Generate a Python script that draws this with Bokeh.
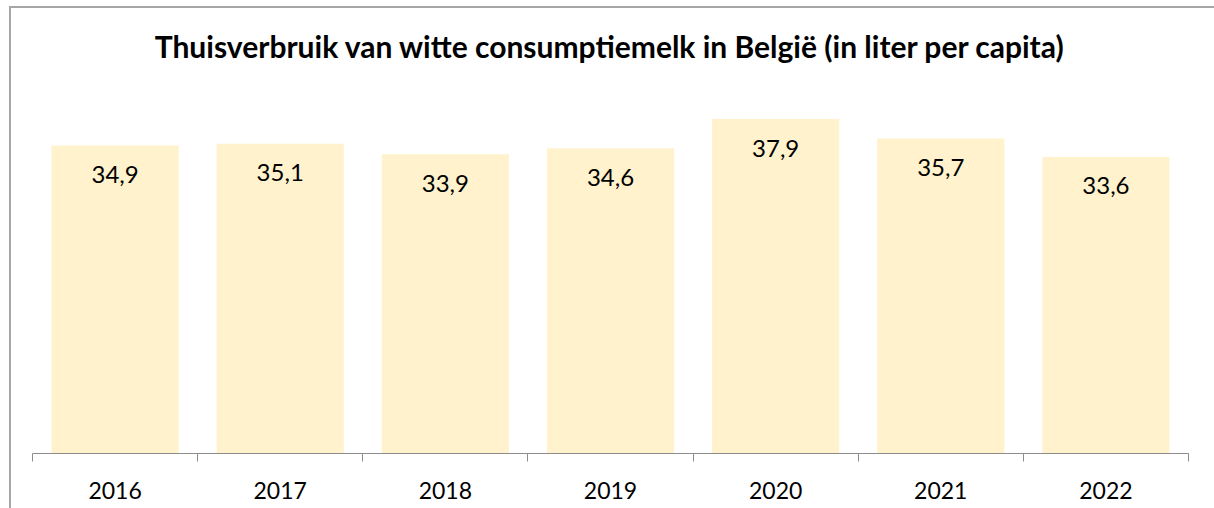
from bokeh.plotting import figure
from bokeh.models import Range1d, FixedTicker, ColumnDataSource, Title
from bokeh.core.properties import value
from bokeh.embed import file_html
from bokeh.resources import INLINE

title_text = "Thuisverbruik van witte consumptiemelk in België (in liter per capita)"
years = ["2016", "2017", "2018", "2019", "2020", "2021", "2022"]
consumption = [34.9, 35.1, 33.9, 34.6, 37.9, 35.7, 33.6]

FONT = "Lato"
n = len(years)
centers = [i + 0.5 for i in range(n)]
labels = [f"{v:.1f}".replace(".", ",") for v in consumption]
src = ColumnDataSource(dict(x=centers, top=consumption, label=labels))

W, H = 1205, 502
p = figure(width=W, height=H, output_backend="svg", toolbar_location=None,
           x_range=Range1d(0, n), y_range=Range1d(0, 40),
           min_border_left=21, min_border_right=28, min_border_top=10, min_border_bottom=57)
p.margin = (6, 0, 0, 9)
p.styles = {"border-top": "2px solid #a6a6a6", "border-left": "2px solid #a6a6a6"}
p.outline_line_color = None
p.background_fill_color = "white"
p.border_fill_color = "white"

# spacer between title and plot area
p.add_layout(Title(text=" ", text_font_size="2px", standoff=16), "above")

p.title.text = title_text
p.title.align = "center"
p.title.text_font = FONT
p.title.text_font_style = "bold"
p.title.text_font_size = "30px"
p.title.text_color = "#000000"
p.title.standoff = 34

p.vbar(x="x", top="top", width=0.77, bottom=0, source=src,
       fill_color="#FFF2CC", line_color=None)
p.text(x="x", y="top", text="label", source=src, y_offset=29,
       text_align="center", text_baseline="middle",
       text_font=value(FONT), text_font_size="24px", text_color="#000000")

p.yaxis.visible = False
p.grid.visible = False
ax = p.xaxis[0]
ax.ticker = FixedTicker(ticks=centers, minor_ticks=list(range(n + 1)))
ax.major_label_overrides = {c: y for c, y in zip(centers, years)}
ax.major_tick_line_color = None
ax.major_tick_out = 0
ax.major_tick_in = 0
ax.minor_tick_out = 8
ax.minor_tick_in = 0
ax.minor_tick_line_color = "#8c8c8c"
ax.axis_line_color = "#8c8c8c"
ax.major_label_text_font = FONT
ax.major_label_text_font_size = "23px"
ax.major_label_text_color = "#000000"
ax.major_label_standoff = 20

open("out.html", "w").write(file_html(p, INLINE))
